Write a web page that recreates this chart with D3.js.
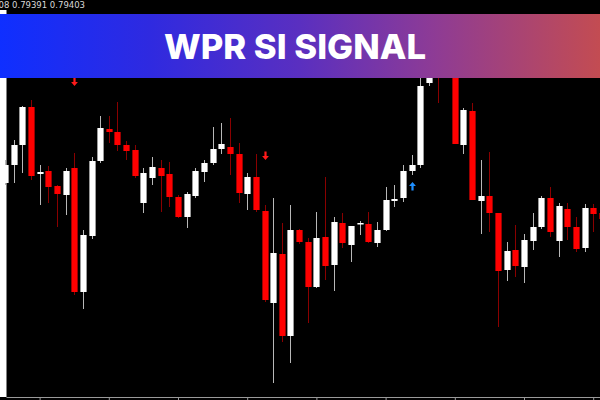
<!DOCTYPE html>
<html>
<head>
<meta charset="utf-8">
<script src="https://cdn.jsdelivr.net/npm/d3@7"></script>
<style>
html,body{margin:0;padding:0;background:#000;}
svg{display:block;}
</style>
</head>
<body>
<svg id="chart" width="600" height="400"></svg>
<script>
// ---- data ----
const openP  = [0.79234,0.79270,0.79310,0.79386,0.79252,0.79258,0.79228,0.79210,0.79264,0.79016,
                0.79128,0.79278,0.79342,0.79336,0.79310,0.79300,0.79194,0.79244,0.79264,0.79252,
                0.79206,0.79166,0.79208,0.79256,0.79274,0.79302,0.79306,0.79292,0.79212,0.79246,
                0.79178,0.78994,0.79092,0.78928,0.79140,0.79116,0.79026,0.79126,0.79070,0.79154,
                0.79110,0.79152,0.79152,0.79114,0.79140,0.79198,0.79204,0.79258,0.79270,0.79434,
                0.79476,0.79500,0.79456,0.79310,0.79378,0.79198,0.79208,0.79174,0.79060,0.79100,
                0.79066,0.79118,0.79146,0.79204,0.79118,0.79182,0.79146,0.79104,0.79184,0.79174];
const highP  = [0.79280,0.79320,0.79388,0.79400,0.79270,0.79268,0.79230,0.79264,0.79294,0.79140,
                0.79286,0.79368,0.79368,0.79396,0.79318,0.79310,0.79264,0.79286,0.79280,0.79276,
                0.79210,0.79216,0.79264,0.79280,0.79346,0.79354,0.79364,0.79314,0.79254,0.79292,
                0.79190,0.79204,0.79154,0.79190,0.79142,0.79124,0.79176,0.79246,0.79166,0.79174,
                0.79148,0.79158,0.79176,0.79156,0.79226,0.79230,0.79270,0.79290,0.79460,0.79480,
                0.79490,0.79520,0.79464,0.79384,0.79394,0.79280,0.79296,0.79174,0.79116,0.79150,
                0.79132,0.79174,0.79208,0.79226,0.79194,0.79194,0.79166,0.79192,0.79192,0.79180];
const lowP   = [0.79230,0.79234,0.79254,0.79240,0.79190,0.79194,0.79146,0.79170,0.79010,0.78982,
                0.79122,0.79274,0.79314,0.79298,0.79280,0.79244,0.79174,0.79230,0.79176,0.79186,
                0.79164,0.79144,0.79204,0.79236,0.79270,0.79292,0.79250,0.79194,0.79180,0.79176,
                0.78996,0.78834,0.78916,0.78874,0.79112,0.78954,0.79024,0.79040,0.79018,0.79104,
                0.79076,0.79130,0.79114,0.79106,0.79138,0.79186,0.79196,0.79250,0.79264,0.79428,
                0.79394,0.79460,0.79312,0.79292,0.79200,0.79132,0.79136,0.78946,0.79038,0.79046,
                0.79034,0.79100,0.79142,0.79126,0.79086,0.79120,0.79096,0.79096,0.79136,0.79150];
const closeP = [0.79270,0.79310,0.79386,0.79248,0.79256,0.79226,0.79212,0.79258,0.79016,0.79130,
                0.79278,0.79344,0.79336,0.79310,0.79298,0.79248,0.79254,0.79266,0.79248,0.79206,
                0.79166,0.79212,0.79258,0.79274,0.79302,0.79312,0.79292,0.79214,0.79246,0.79180,
                0.79000,0.79094,0.78928,0.79140,0.79116,0.79026,0.79124,0.79068,0.79156,0.79114,
                0.79148,0.79154,0.79116,0.79140,0.79200,0.79202,0.79258,0.79270,0.79428,0.79464,
                0.79456,0.79480,0.79312,0.79380,0.79200,0.79208,0.79174,0.79058,0.79098,0.79068,
                0.79120,0.79146,0.79204,0.79136,0.79188,0.79146,0.79102,0.79184,0.79172,0.79162];
const downSignalIdx   = [8, 30];
const downSignalPrice = [0.79436, 0.79288];
const upSignalIdx     = [47];
const upSignalPrice   = [0.79228];
const tickIdx = [4, 12, 20, 28, 36, 44, 52, 60, 68];
const titleText = "WPR SI SIGNAL";
const infoText = "08 0.79391 0.79403";

// ---- build ----
const candles = openP.map((o, i) => ({i, o, h: highP[i], l: lowP[i], c: closeP[i]}));
const svg = d3.select("#chart");
const W = 600, H = 400;

svg.append("rect").attr("width", W).attr("height", H).attr("fill", "#000");

const x = d3.scaleLinear().domain([0, 68]).range([5, 593.2]);
const y = d3.scaleLinear().domain([0.7880, 0.7960]).range([400, 0]);
const bw = 6.2;

// left white border strip
svg.append("rect").attr("x", 0).attr("y", 10).attr("width", 6.5).attr("height", 387).attr("fill", "#ffffff");

const g = svg.append("g");
// wicks
g.selectAll("line.wick").data(candles).join("line")
  .attr("class", "wick")
  .attr("x1", d => Math.round(x(d.i)) + 0.5).attr("x2", d => Math.round(x(d.i)) + 0.5)
  .attr("y1", d => y(d.h)).attr("y2", d => y(d.l))
  .attr("stroke", d => d.c >= d.o ? "#b8b8b8" : "#8a0000")
  .attr("stroke-width", 1);
// bodies
g.selectAll("rect.body").data(candles).join("rect")
  .attr("class", "body")
  .attr("x", d => Math.round(x(d.i)) + 0.5 - bw / 2)
  .attr("width", bw)
  .attr("y", d => y(Math.max(d.o, d.c)))
  .attr("height", d => Math.max(1.5, Math.abs(y(d.o) - y(d.c))))
  .attr("fill", d => d.c >= d.o ? "#ffffff" : "#ff0000");

// signal arrows
function arrowPath(cx, cy, dir) {
  const s = dir;
  return `M${cx - 1.1},${cy - 4.5 * s} L${cx + 1.1},${cy - 4.5 * s} L${cx + 1.1},${cy} L${cx + 3.4},${cy} L${cx},${cy + 4 * s} L${cx - 3.4},${cy} L${cx - 1.1},${cy} Z`;
}
const downs = downSignalIdx.map((d, k) => ({i: d, p: downSignalPrice[k]}));
const ups = upSignalIdx.map((d, k) => ({i: d, p: upSignalPrice[k]}));
g.selectAll("path.dn").data(downs).join("path")
  .attr("class", "dn")
  .attr("d", d => arrowPath(Math.round(x(d.i)) + 0.5, y(d.p), 1))
  .attr("fill", "#ff1a1a");
g.selectAll("path.up").data(ups).join("path")
  .attr("class", "up")
  .attr("d", d => arrowPath(Math.round(x(d.i)) + 0.5, y(d.p), -1))
  .attr("fill", "#1e8fff");

// bottom axis
const axis = d3.axisBottom(x).tickValues(tickIdx).tickSize(3).tickSizeOuter(0).tickFormat("");
const ag = svg.append("g").attr("transform", "translate(0,397.5)").call(axis);
ag.select(".domain").attr("stroke", "#9a9a9a").attr("d", "M6.5,0H600");
ag.selectAll(".tick line").attr("stroke", "#9a9a9a");

// info text
svg.append("text").attr("x", -1.5).attr("y", 8)
  .attr("font-family", "Tahoma, 'DejaVu Sans', sans-serif").attr("font-size", 8.5)
  .attr("fill", "#d8d8d8").text(infoText);

// banner
const defs = svg.append("defs");
const grad = defs.append("linearGradient").attr("id", "bannerGrad").attr("x1", "0%").attr("x2", "100%");
[[0, "#0f2fff"], [0.25, "#2f2ae0"], [0.5, "#5a2fc0"], [0.72, "#8d3b96"], [1, "#c34c52"]]
  .forEach(([o, c]) => grad.append("stop").attr("offset", o).attr("stop-color", c));
svg.append("rect").attr("x", 0).attr("y", 14).attr("width", W).attr("height", 64).attr("fill", "url(#bannerGrad)");
svg.append("text").attr("x", 295).attr("y", 58.5)
  .attr("text-anchor", "middle")
  .attr("font-family", "Inter, 'Open Sans', sans-serif").attr("font-weight", 800)
  .attr("font-size", 34).attr("fill", "#ffffff")
  .attr("textLength", 262).attr("lengthAdjust", "spacingAndGlyphs")
  .text(titleText);
</script>
</body>
</html>
